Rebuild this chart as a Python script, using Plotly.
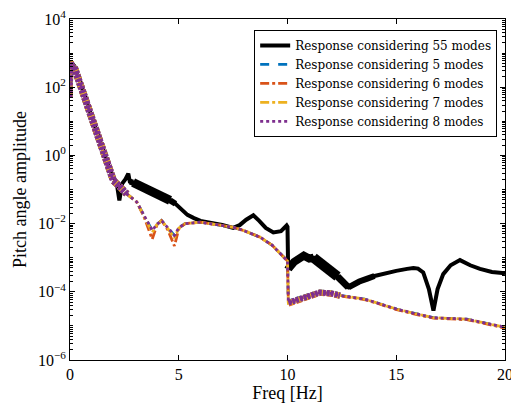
import plotly.graph_objects as go

# Frequency samples (Hz) and pitch angle amplitude for the full model (55 modes)
freq_full = [0.0, 0.05, 0.12, 0.2, 0.3, 0.5, 1.0, 1.5, 1.84, 2.0, 2.15, 2.27, 2.4, 2.55, 2.68, 2.75,
             2.9, 3.2, 3.5, 3.7, 4.0, 4.3, 4.6, 4.85, 5.1, 5.4, 5.7, 6.0, 6.5, 7.0, 7.5, 7.8, 8.1, 8.43,
             8.7, 9.0, 9.35, 9.7, 9.96, 10.0, 10.03, 10.05, 10.3, 10.55, 10.75, 11.0, 11.2, 11.45, 11.65,
             11.95, 12.3, 12.6, 12.8, 13.0, 13.3, 13.64, 14.0, 14.56, 15.0, 15.5, 15.79, 16.0, 16.24, 16.5,
             16.71, 16.9, 17.16, 17.5, 17.93, 18.4, 18.85, 19.4, 20.0]
amp_55 = [60, 560, 480, 420, 250, 123, 13.8, 1.6, 0.36, 0.23, 0.15, 0.048, 0.15, 0.2, 0.29, 0.17,
          0.16, 0.13, 0.105, 0.092, 0.075, 0.062, 0.048, 0.038, 0.026, 0.018, 0.0145, 0.012, 0.0105,
          0.0092, 0.0075, 0.009, 0.013, 0.0175, 0.012, 0.0075, 0.0055, 0.006, 0.0088, 0.008, 0.00045,
          0.00048, 0.00075, 0.00105, 0.00115, 0.00095, 0.001, 0.00075, 0.00058, 0.00045, 0.00028,
          0.00017, 0.000135, 0.00016, 0.0002, 0.00024, 0.00029, 0.00036, 0.00041, 0.00047, 0.0005,
          0.00048, 0.00037, 0.00012, 0.000028, 0.00012, 0.00033, 0.0006, 0.00085, 0.0006, 0.00047,
          0.00038, 0.00035]

# Frequency samples (Hz) for the reduced-order responses
freq_red = [0.0, 0.05, 0.12, 0.2, 0.5, 1.0, 1.5, 1.84, 2.0, 2.3, 2.61, 3.07, 3.4, 3.78, 4.0, 4.21,
            4.5, 4.8, 5.0, 5.29, 6.0, 7.0, 7.5, 8.0, 8.74, 9.3, 9.96, 10.0, 10.04, 10.3, 10.73, 11.0,
            11.49, 12.0, 12.41, 13.0, 13.49, 14.0, 15.02, 16.0, 16.71, 17.5, 18.24, 19.0, 19.92, 20.0]
amp_5 = [50, 550, 420, 380, 110, 12, 1.4, 0.33, 0.18, 0.12, 0.074, 0.043, 0.018, 0.0063, 0.0095,
         0.0123, 0.0075, 0.0045, 0.0075, 0.0100, 0.011, 0.0088, 0.0078, 0.0062, 0.004, 0.0023, 0.00081,
         0.0008, 0.000048, 0.000055, 0.00007, 0.00008, 0.000095, 0.00009, 0.000078, 0.000068, 0.000062,
         0.00005, 0.000031, 0.000022, 0.0000174, 0.0000165, 0.0000158, 0.0000125, 0.0000093, 0.0000091]
amp_6 = [50, 550, 420, 380, 110, 12, 1.4, 0.33, 0.18, 0.12, 0.074, 0.043, 0.016, 0.0035, 0.0092,
         0.0123, 0.0065, 0.0022, 0.007, 0.0100, 0.011, 0.0088, 0.0078, 0.0062, 0.004, 0.0023, 0.00081,
         0.0008, 0.000045, 0.000052, 0.000067, 0.000078, 0.000093, 0.000088, 0.000076, 0.000066, 0.00006,
         0.000049, 0.00003, 0.000021, 0.000017, 0.000016, 0.0000152, 0.000012, 0.0000088, 0.0000086]
amp_7 = [50, 550, 420, 380, 110, 12, 1.4, 0.33, 0.18, 0.12, 0.074, 0.043, 0.017, 0.0055, 0.0094,
         0.0123, 0.0072, 0.0038, 0.0073, 0.0100, 0.011, 0.0088, 0.0078, 0.0062, 0.004, 0.0023, 0.00081,
         0.0008, 0.000047, 0.000054, 0.000069, 0.00008, 0.000095, 0.00009, 0.000078, 0.000068, 0.000062,
         0.00005, 0.000031, 0.000022, 0.0000174, 0.0000165, 0.0000158, 0.0000125, 0.0000093, 0.0000091]
amp_8 = [50, 550, 420, 380, 110, 12, 1.4, 0.33, 0.18, 0.12, 0.074, 0.043, 0.018, 0.0063, 0.0095,
         0.0123, 0.0075, 0.0045, 0.0075, 0.0100, 0.011, 0.0088, 0.0078, 0.0062, 0.004, 0.0023, 0.00081,
         0.0008, 0.000048, 0.000055, 0.00007, 0.00008, 0.000095, 0.00009, 0.000078, 0.000068, 0.000062,
         0.00005, 0.000031, 0.000022, 0.0000174, 0.0000165, 0.0000158, 0.0000125, 0.0000093, 0.0000091]

x_ticks = [0, 5, 10, 15, 20]
y_ticks = [1e-6, 1e-4, 1e-2, 1e0, 1e2, 1e4]
y_tick_text = ["10<sup>\u22126</sup>", "10<sup>\u22124</sup>", "10<sup>\u22122</sup>", "10<sup>0</sup>",
               "10<sup>2</sup>", "10<sup>4</sup>"]

FONT = "Liberation Serif"
LEGEND_FONT = "DejaVu Serif"

# Frequency bands where the lightly damped response oscillates rapidly and the trace appears thick
full_bands = [((2.75, 2.9), 6), ((2.9, 4.6), 9), ((4.6, 4.85), 6),
              ((10.03, 11.2), 8), ((11.2, 12.3), 10), ((12.3, 12.8), 7), ((12.8, 14.0), 6)]
red_bands = [((0.0, 0.2), 5), ((0.2, 2.61), 7), ((10.03, 12.41), 6)]


def band(xs, ys, lo, hi):
    sel = [(x, y) for x, y in zip(xs, ys) if lo <= x <= hi]
    return [p[0] for p in sel], [p[1] for p in sel]


fig = go.Figure()

series = [
    ("Response considering 55 modes", freq_full, amp_55, "black", "solid", 4, full_bands),
    ("Response considering 5 modes", freq_red, amp_5, "#0072BD", "dash", 2.8, red_bands),
    ("Response considering 6 modes", freq_red, amp_6, "#D95319", "dashdot", 2.8, red_bands),
    ("Response considering 7 modes", freq_red, amp_7, "#EDB120", "dashdot", 2.8, red_bands),
    ("Response considering 8 modes", freq_red, amp_8, "#7E2F8E", "dot", 2.8, red_bands),
]

for name, xs, ys, color, dash, width, bands in series:
    fig.add_trace(go.Scatter(x=xs, y=ys, mode="lines", name=name, legendgroup=name,
                             line=dict(color=color, width=width, dash=dash)))
    for (lo, hi), w in bands:
        bx, by = band(xs, ys, lo, hi)
        bdash = dash if dash == "solid" else ("3px,1px" if dash == "dot" else "6px,2px")
        fig.add_trace(go.Scatter(x=bx, y=by, mode="lines", legendgroup=name, showlegend=False,
                                 line=dict(color=color, width=w, dash=bdash), hoverinfo="skip"))

minor_vals = [m * 10.0 ** k for k in range(-6, 4) for m in range(2, 10)] + \
             [10.0 ** k for k in range(-5, 4, 2)]

axis_common = dict(showline=True, linecolor="black", linewidth=1, mirror="allticks",
                   ticks="inside", tickcolor="black", ticklen=5, showgrid=False, zeroline=False,
                   automargin=False,
                   tickfont=dict(family=FONT, size=16, color="black"))

fig.update_xaxes(range=[0, 20], tickvals=x_ticks, ticklabeloverflow="allow",
                 title=dict(text="Freq [Hz]", font=dict(family=FONT, size=18, color="black"), standoff=4),
                 **axis_common)
fig.update_yaxes(type="log", range=[-6, 4], tickvals=y_ticks, ticktext=y_tick_text,
                 ticklabeloverflow="allow",
                 minor=dict(ticks="inside", ticklen=3, tickcolor="black", tickvals=minor_vals,
                            showgrid=False),
                 title=dict(text="Pitch angle amplitude", font=dict(family=FONT, size=18, color="black"),
                            standoff=6),
                 **axis_common)

fig.update_layout(
    width=511, height=407,
    margin=dict(l=70, r=6, t=19, b=47),
    plot_bgcolor="white", paper_bgcolor="white",
    font=dict(family=FONT, color="black"),
    showlegend=True,
    legend=dict(x=0.982, y=0.968, xanchor="right", yanchor="top",
                bgcolor="white", bordercolor="black", borderwidth=1,
                font=dict(family=LEGEND_FONT, size=12, color="black"),
                tracegroupgap=0),
)

fig.write_html("out.html")
